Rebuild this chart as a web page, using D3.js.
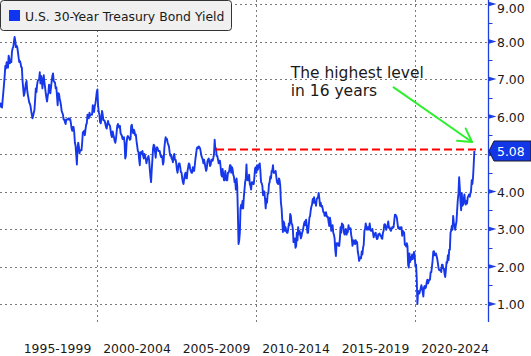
<!DOCTYPE html>
<html><head><meta charset="utf-8">
<script src="https://cdn.jsdelivr.net/npm/d3@7"></script>
<style>
html,body{margin:0;padding:0;background:#fff;overflow:hidden;}
svg{display:block;}
text{font-family:"DejaVu Sans",Verdana,sans-serif;}
</style></head><body>
<svg id="chart" width="531" height="356"></svg>
<script>
// ---------- data ----------
const periodLabels = ["1995-1999","2000-2004","2005-2009","2010-2014","2015-2019","2020-2024"];
const periodStarts = [1995,2000,2005,2010,2015,2020];
const gridYears = [2000,2010,2020];
const yTicks = [1,2,3,4,5,6,7,8,9];
const yTickLabels = [1,2,3,4,6,7,8,9];   // 5.00 is covered by the last-value flag
const yMinorTicks = [1.5,2.5,3.5,4.5,5.5,6.5,7.5,8.5];
const seriesName = "U.S. 30-Year Treasury Bond Yield";
const startYear = 1993 + 10/12;   // Nov 1993, two readings per month
const stepsPerYear = 24;

const yields1990s = [
 6.15,6.35,6.28,6.35,
 6.25,6.24,6.45,6.65,6.85,7.08,7.35,7.28,7.45,7.38,7.30,7.62,7.55,7.42,7.48,7.45,7.72,7.82,7.85,7.99,8.12,8.02,7.85,7.89,
 7.85,7.72,7.58,7.45,7.48,7.42,7.32,7.30,6.95,6.75,6.55,6.62,6.75,6.88,6.95,6.70,6.58,6.48,6.38,6.34,6.28,6.15,6.05,5.95,
 6.02,6.10,6.18,6.45,6.75,6.65,6.85,6.95,6.98,6.99,7.18,6.88,7.08,6.98,6.75,6.95,7.10,6.92,6.78,6.62,6.50,6.40,6.55,6.63,
 6.85,6.82,6.62,6.78,6.95,7.08,7.15,6.95,6.92,6.90,6.75,6.78,6.55,6.30,6.62,6.60,6.48,6.40,6.30,6.15,6.10,6.05,5.92,5.92,
 5.85,5.80,5.92,5.92,5.92,5.95,5.92,5.95,5.92,5.82,5.68,5.62,5.72,5.72,5.58,5.30,5.22,4.98,4.72,5.15,5.30,5.20,5.02,5.10,
 5.10,5.10,5.30,5.58,5.55,5.62,5.50,5.65,5.78,5.82,6.05,5.98,5.95,6.10,6.02,6.05,6.05,6.05,6.30,6.17,6.12,6.28,6.35,6.48
];
const yields2000s = [
 6.65,6.72,6.30,6.12,6.05,5.85,5.82,5.95,6.15,6.05,5.90,5.90,5.88,5.80,5.72,5.68,5.80,5.88,5.80,5.78,5.75,5.62,5.50,5.45,
 5.60,5.52,5.45,5.35,5.30,5.40,5.58,5.75,5.80,5.75,5.70,5.75,5.55,5.52,5.48,5.40,5.42,5.45,5.30,4.88,4.95,5.28,5.45,5.48,
 5.45,5.42,5.38,5.40,5.75,5.78,5.62,5.55,5.65,5.60,5.50,5.52,5.35,5.22,5.08,5.05,4.85,4.70,5.05,5.00,5.05,5.08,4.95,4.88,
 5.00,4.95,4.88,4.75,4.85,4.88,4.95,4.85,4.60,4.40,4.25,4.58,4.85,5.15,5.25,5.22,5.05,4.90,5.15,5.18,5.15,5.08,5.08,5.08,
 4.98,4.92,4.95,4.90,4.72,4.80,5.15,5.32,5.45,5.38,5.40,5.30,5.25,5.20,5.05,4.95,4.98,4.88,4.85,4.78,4.95,5.00,4.85,4.85,
 4.75,4.58,4.50,4.65,4.75,4.75,4.65,4.52,4.50,4.35,4.25,4.20,4.35,4.45,4.50,4.35,4.35,4.55,4.65,4.75,4.72,4.60,4.55,4.50,
 4.50,4.65,4.55,4.55,4.70,4.88,5.00,5.15,5.18,5.15,5.20,5.18,5.15,5.05,4.95,4.90,4.85,4.75,4.85,4.75,4.65,4.55,4.60,4.80,
 4.85,4.88,4.78,4.68,4.72,4.85,4.85,4.82,4.90,5.00,5.38,5.12,5.15,4.95,4.95,4.85,4.75,4.82,4.82,4.65,4.45,4.40,4.60,4.45,
 4.30,4.30,4.55,4.40,4.30,4.30,4.50,4.50,4.55,4.70,4.70,4.50,4.65,4.60,4.45,4.40,4.25,4.30,4.05,4.35,4.15,3.45,2.60,2.69,
 2.90,3.55,3.65,3.55,3.75,3.55,3.85,4.05,4.25,4.35,4.72,4.32,4.30,4.30,4.45,4.20,4.15,4.05,4.25,4.25,4.20,4.20,4.40,4.62
];
const yields2010s = [
 4.65,4.50,4.70,4.58,4.65,4.72,4.75,4.55,4.25,4.22,4.15,3.90,4.00,4.00,3.80,3.55,3.80,3.70,3.95,3.95,4.20,4.25,4.40,4.35,
 4.55,4.55,4.70,4.50,4.50,4.50,4.55,4.40,4.25,4.22,4.20,4.35,4.30,4.15,3.70,3.55,3.25,2.92,3.20,3.15,2.95,3.05,2.95,2.90,
 2.90,3.00,3.15,3.10,3.40,3.35,3.15,3.12,3.00,2.65,2.70,2.75,2.50,2.55,2.90,2.70,3.05,2.85,2.95,2.90,2.75,2.80,2.90,2.95,
 3.05,3.15,3.20,3.10,3.25,3.10,2.90,2.90,3.10,3.30,3.35,3.50,3.60,3.65,3.80,3.70,3.85,3.70,3.70,3.62,3.80,3.82,3.85,3.96,
 3.82,3.62,3.70,3.60,3.62,3.55,3.45,3.45,3.35,3.35,3.45,3.36,3.32,3.32,3.18,3.08,3.30,3.18,2.95,3.05,3.10,2.90,2.85,2.75,
 2.45,2.28,2.62,2.60,2.62,2.55,2.55,2.75,3.05,2.90,3.15,3.12,3.10,2.92,2.85,2.95,3.00,2.85,2.90,2.92,3.10,3.00,3.00,3.02,
 2.85,2.75,2.55,2.62,2.70,2.62,2.60,2.70,2.62,2.65,2.40,2.30,2.15,2.20,2.25,2.22,2.40,2.32,2.50,2.58,2.95,3.00,3.15,3.06,
 2.98,3.05,3.05,2.98,3.15,3.00,2.95,2.95,3.00,2.90,2.78,2.85,2.88,2.90,2.78,2.73,2.75,2.86,2.85,2.88,2.82,2.83,2.75,2.74,
 2.90,2.95,3.12,3.13,3.08,2.98,3.05,3.10,3.20,3.03,3.05,2.98,2.95,3.00,3.05,3.03,3.05,3.20,3.38,3.38,3.35,3.30,3.15,3.02,
 3.05,3.00,3.00,3.05,3.05,2.82,2.95,2.93,2.90,2.58,2.60,2.53,2.62,2.55,2.05,1.97,2.35,2.12,2.25,2.18,2.32,2.20,2.28,2.39
];
const yields2020s = [
 2.28,2.00,2.05,1.68,1.00,1.35,1.30,1.28,1.35,1.42,1.50,1.42,1.32,1.20,1.45,1.48,1.42,1.45,1.58,1.65,1.55,1.60,1.65,1.65,
 1.85,1.85,2.00,2.17,2.40,2.41,2.30,2.30,2.35,2.28,2.20,2.08,1.95,1.90,1.90,1.92,1.85,2.05,2.05,1.95,1.95,1.80,1.72,1.90,
 2.12,2.10,2.30,2.17,2.45,2.45,2.90,2.95,3.08,2.98,3.35,3.15,3.10,2.98,3.10,3.20,3.50,3.78,3.95,4.38,4.10,3.74,3.50,3.96,
 3.62,3.65,3.80,3.92,3.70,3.65,3.75,3.68,3.85,3.88,3.92,3.86,3.95,4.02,4.30,4.20,4.38,4.72,5.08
];
const lastValue = 5.08;
const priorHigh = { year: 2007.5, endYear: 2024.23, value: 5.12 };
const annotationLines = ["The highest level", "in 16 years"];
const annotationPos = { year: 2012.2, value: 7.03 };
const arrowFrom = { year: 2018.63, value: 6.79 };
const arrowTo = { year: 2023.6, value: 5.32 };

// ---------- chart ----------
const FONT = '"DejaVu Sans",Verdana,sans-serif';
const SMALL = "12.4px";
const yields = [].concat(yields1990s, yields2000s, yields2010s, yields2020s);
const svg = d3.select("#chart");
const plotRight = 488, plotBottom = 322;

const x = d3.scaleLinear().domain([1993.915, 2024.607]).range([0, plotRight]);
const y = d3.scaleLinear().domain([1, 9]).range([304, 4]);

// grid
const grid = svg.append("g");
grid.selectAll(".hg").data(yTicks).enter().append("line")
  .attr("x1", 0).attr("x2", plotRight)
  .attr("y1", d => Math.round(y(d)) + 0.5).attr("y2", d => Math.round(y(d)) + 0.5)
  .attr("stroke", "#7a7a7a").attr("stroke-width", 1).attr("stroke-dasharray", "2,3");
grid.selectAll(".vg").data(gridYears).enter().append("line")
  .attr("x1", d => Math.round(x(d)) + 0.5).attr("x2", d => Math.round(x(d)) + 0.5)
  .attr("y1", 0).attr("y2", plotBottom)
  .attr("stroke", "#7a7a7a").attr("stroke-width", 1).attr("stroke-dasharray", "2,3");

// series
const line = d3.line()
  .x((d, i) => x(startYear + i / stepsPerYear))
  .y(d => y(d));
svg.append("path").datum(yields)
  .attr("d", line).attr("fill", "none")
  .attr("stroke", "#1638ea").attr("stroke-width", 1.9).attr("stroke-linejoin", "round");

// red dashed prior-high line
svg.append("line")
  .attr("x1", x(priorHigh.year)).attr("x2", x(priorHigh.endYear))
  .attr("y1", y(priorHigh.value)).attr("y2", y(priorHigh.value))
  .attr("stroke", "#ff0000").attr("stroke-width", 2.2).attr("stroke-dasharray", "8,4");

// right axis
const ax = svg.append("g");
ax.append("line").attr("x1", plotRight + 0.5).attr("x2", plotRight + 0.5)
  .attr("y1", 0).attr("y2", plotBottom).attr("stroke", "#1e3fe0").attr("stroke-width", 1.3);
ax.selectAll(".mt").data(yMinorTicks).enter().append("line")
  .attr("x1", plotRight).attr("x2", plotRight + 4.5)
  .attr("y1", d => Math.round(y(d)) + 0.5).attr("y2", d => Math.round(y(d)) + 0.5)
  .attr("stroke", "#1e3fe0").attr("stroke-width", 1);
ax.selectAll(".tri").data(yTicks).enter().append("path")
  .attr("d", d => { const yy = y(d); return `M${plotRight},${yy - 2.5}L${plotRight + 8.5},${yy}L${plotRight},${yy + 2.5}Z`; })
  .attr("fill", "#1e3fe0");
const yAxis = d3.axisRight(y).tickValues(yTickLabels).tickSize(0).tickPadding(0).tickFormat(d3.format(".2f"));
const yg = svg.append("g").attr("transform", `translate(${plotRight + 9},0)`).call(yAxis);
yg.select(".domain").remove();
yg.selectAll(".tick").attr("transform", d => `translate(0,${Math.max(y(d) + 5, 13)})`);
yg.selectAll("text").attr("dy", null).attr("y", 0).attr("x", 0)
  .attr("font-size", SMALL).attr("fill", "#1a1a1a").style("font-family", FONT);

// last value label
const ly = y(lastValue);
svg.append("path")
  .attr("d", `M${plotRight + 1},${ly}L${plotRight + 6},${ly - 10}L531,${ly - 10}L531,${ly + 10}L${plotRight + 6},${ly + 10}Z`)
  .attr("fill", "#1237e6").attr("stroke", "#1a1a2a").attr("stroke-width", 1);
svg.append("text").attr("x", plotRight + 9).attr("y", ly + 5)
  .attr("font-size", SMALL).attr("fill", "#fff").text(d3.format(".2f")(lastValue));

// bottom axis labels
const xAxis = d3.axisBottom(x).tickValues(periodStarts.map(s => s + 2.5)).tickSize(0).tickPadding(0)
  .tickFormat((d, i) => periodLabels[i]);
const xg = svg.append("g").attr("transform", "translate(0,353)").call(xAxis);
xg.select(".domain").remove();
xg.selectAll("text").attr("dy", null).attr("y", 0)
  .attr("font-size", SMALL).attr("fill", "#1a1a1a").style("font-family", FONT);

// annotation
const ann = svg.append("text").attr("x", x(annotationPos.year)).attr("y", y(annotationPos.value))
  .attr("font-size", "15.5px").attr("fill", "#1a1a1a");
ann.selectAll("tspan").data(annotationLines).enter().append("tspan")
  .attr("x", x(annotationPos.year)).attr("dy", (d, i) => i === 0 ? 0 : 18.5).text(d => d);

const ax0 = x(arrowFrom.year), ay0 = y(arrowFrom.value), ax1 = x(arrowTo.year), ay1 = y(arrowTo.value);
const ang = Math.atan2(ay1 - ay0, ax1 - ax0);
const hl = 15, ha = Math.PI / 6;
const green = "#2ef02e";
svg.append("line").attr("x1", ax0).attr("y1", ay0).attr("x2", ax1).attr("y2", ay1)
  .attr("stroke", green).attr("stroke-width", 2);
[ang + Math.PI - ha, ang + Math.PI + ha].forEach(a => {
  svg.append("line").attr("x1", ax1).attr("y1", ay1)
    .attr("x2", ax1 + hl * Math.cos(a)).attr("y2", ay1 + hl * Math.sin(a))
    .attr("stroke", green).attr("stroke-width", 2).attr("stroke-linecap", "round");
});

// legend
const lg = svg.append("g");
lg.append("rect").attr("x", 0.5).attr("y", 0.5).attr("width", 231).attr("height", 30).attr("rx", 3)
  .attr("fill", "#f0f0f0").attr("stroke", "#333").attr("stroke-width", 1);
lg.append("rect").attr("x", 9).attr("y", 10).attr("width", 11).attr("height", 11).attr("fill", "#1035f0");
lg.append("text").attr("x", 25).attr("y", 21).attr("font-size", SMALL).attr("fill", "#1a1a1a").text(seriesName);
</script>
</body></html>
